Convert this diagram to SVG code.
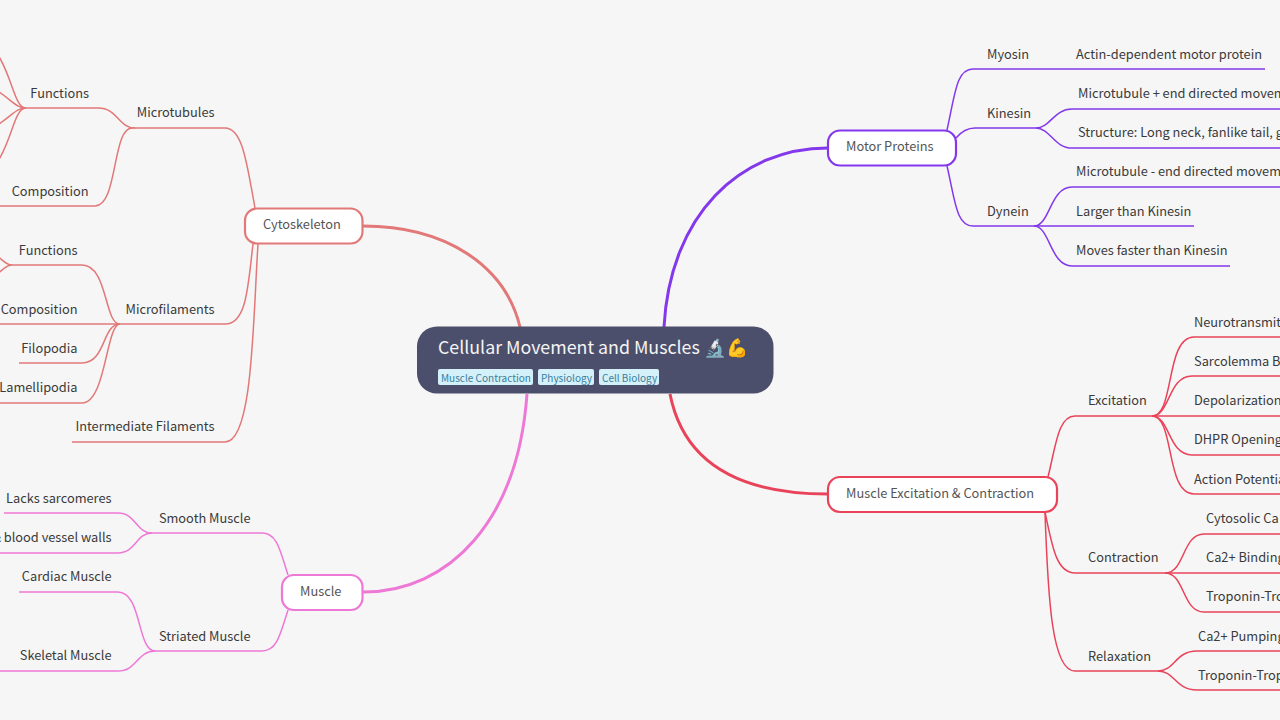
<svg xmlns="http://www.w3.org/2000/svg" width="1280" height="720" viewBox="0 0 1280 720">
<style>
text{font-family:"Noto Sans CJK SC","Noto Sans",sans-serif;font-size:12.8px;fill:#3a3a3a}
.e{text-anchor:end}
.n{fill:#555}
.c path{fill:none;stroke-width:1.5}
.c .t{stroke-width:3}
.r{stroke:#e27878}.p{stroke:#8338ec}.k{stroke:#ee78d6}.d{stroke:#e9435a}
.box{fill:#fff;stroke-width:2.200}
.tag{fill:#d4f1f9;stroke:none}
.tt{font-size:10px;fill:#3a7d9c}
</style>
<rect width="1280" height="720" fill="#f6f6f6"/>
<g id="connectors" class="c">
<g class="r">
<path class="t" d="M363,226 C445,226 505,265 520,327"/>
<path d="M255,208 C247,165 243,128 225,128 L132,128"/>
<path d="M135,128 C118,128 118,108 98,108 L26,108"/>
<path d="M26,108 C14,108 12,74 -4,52"/>
<path d="M26,108 C16,108 12,100 -4,90"/>
<path d="M26,108 C16,108 12,116 -4,126"/>
<path d="M26,108 C14,108 12,142 -4,164"/>
<path d="M132,128 C112,128 118,206 95,206 L-2,206"/>
<path d="M253,244 C248,285 247,324 225,324 L120,324"/>
<path d="M120,324 C104,324 108,265 82,265 L12,265"/>
<path d="M12,265 C6,265 4,261 -4,255"/>
<path d="M12,265 C6,265 4,269 -4,275"/>
<path d="M120,324 L-2,324"/>
<path d="M120,324 C102,324 106,363 82,363 L19,363"/>
<path d="M120,324 C106,324 106,403 82,403 L-2,403"/>
<path d="M258,244 C253,320 253,442 225,442 L72,442"/>
</g>
<g class="p">
<path class="t" d="M828,148 C740,148 670,215 664,327"/>
<path d="M947,130 C955,95 956,69 973,69 L1265,69"/>
<path d="M956,138 C961,132 967,128 975,128 L1036,128"/>
<path d="M1036,128 C1050,128 1054,109 1072,109 L1282,109"/>
<path d="M1036,128 C1050,128 1054,148 1072,148 L1282,148"/>
<path d="M947,166 C955,200 956,226 973,226 L1194,226"/>
<path d="M1034,226 C1050,226 1050,187 1072,187 L1282,187"/>
<path d="M1034,226 C1050,226 1050,266 1072,266 L1230,266"/>
</g>
<g class="k">
<path class="t" d="M363,592 C450,592 518,520 527,394"/>
<path d="M288,575 C280,550 277,533 262,533 L152,533"/>
<path d="M152,533 C136,533 136,513 118,513 L4,513"/>
<path d="M152,533 C136,533 136,553 118,553 L-2,553"/>
<path d="M288,610 C280,635 277,651 262,651 L155,651"/>
<path d="M155,651 C137,651 142,592 118,592 L19,592"/>
<path d="M155,651 C137,651 137,671 118,671 L-2,671"/>
</g>
<g class="d">
<path class="t" d="M828,494 C750,494 685,470 670,394"/>
<path d="M1048,477 C1056,445 1058,416 1075,416 L1152,416"/>
<path d="M1152,416 C1175,416 1165,337 1194,337 L1282,337"/>
<path d="M1152,416 C1170,416 1168,376 1192,376 L1282,376"/>
<path d="M1152,416 L1282,416"/>
<path d="M1152,416 C1170,416 1168,455 1192,455 L1282,455"/>
<path d="M1152,416 C1175,416 1165,494 1194,494 L1282,494"/>
<path d="M1045,512 C1052,545 1056,573 1075,573 L1165,573"/>
<path d="M1165,573 C1185,573 1182,534 1204,534 L1282,534"/>
<path d="M1165,573 L1282,573"/>
<path d="M1165,573 C1185,573 1182,612 1204,612 L1282,612"/>
<path d="M1045,512 C1048,600 1052,671 1075,671 L1158,671"/>
<path d="M1158,671 C1175,671 1175,651 1197,651 L1282,651"/>
<path d="M1158,671 C1175,671 1175,690 1197,690 L1282,690"/>
</g>
</g>
<g id="root">
<rect x="417" y="326.500" width="356.500" height="67" rx="20" fill="#4c4f6b"/>
<text x="438" y="354" style="font-size:17.800px;fill:#f4f4f4">Cellular Movement and Muscles 🔬💪</text>
<rect class="tag" x="438" y="369" width="95" height="16" rx="2"/>
<text class="tt" x="441" y="382">Muscle Contraction</text>
<rect class="tag" x="538" y="369" width="56" height="16" rx="2"/>
<text class="tt" x="541" y="382">Physiology</text>
<rect class="tag" x="599" y="369" width="60" height="16" rx="2"/>
<text class="tt" x="602" y="382">Cell Biology</text>
</g>
<g id="cytoskeleton"><rect class="box r" x="245" y="208.500" width="117.500" height="35" rx="12"/><text class="n" x="263" y="229">Cytoskeleton</text></g>
<g id="motor-proteins"><rect class="box p" x="828" y="130.500" width="128" height="35" rx="12"/><text class="n" x="846" y="151">Motor Proteins</text></g>
<g id="muscle"><rect class="box k" x="282" y="575" width="80.500" height="35" rx="12"/><text class="n" x="300" y="596">Muscle</text></g>
<g id="excitation-contraction"><rect class="box d" x="828" y="477" width="229" height="35" rx="12"/><text class="n" x="846" y="498">Muscle Excitation &amp; Contraction</text></g>
<g id="microtubules"><text class="e" x="214.500" y="117">Microtubules</text></g>
<g id="mt-functions"><text class="e" x="89" y="98">Functions</text></g>
<g id="mt-composition"><text class="e" x="88.500" y="196">Composition</text></g>
<g id="microfilaments"><text class="e" x="214.500" y="314">Microfilaments</text></g>
<g id="mf-functions"><text class="e" x="77.500" y="255">Functions</text></g>
<g id="mf-composition"><text class="e" x="77.500" y="314">Composition</text></g>
<g id="filopodia"><text class="e" x="77.500" y="353">Filopodia</text></g>
<g id="lamellipodia"><text class="e" x="77.500" y="392">Lamellipodia</text></g>
<g id="intermediate"><text class="e" x="214.500" y="431">Intermediate Filaments</text></g>
<g id="smooth"><text class="e" x="250.500" y="523">Smooth Muscle</text></g>
<g id="lacks"><text class="e" x="111.500" y="503">Lacks sarcomeres</text></g>
<g id="vessel"><text class="e" x="111.500" y="542">&amp; blood vessel walls</text></g>
<g id="striated"><text class="e" x="250.500" y="641">Striated Muscle</text></g>
<g id="cardiac"><text class="e" x="111.500" y="581">Cardiac Muscle</text></g>
<g id="skeletal"><text class="e" x="111.500" y="660">Skeletal Muscle</text></g>
<g id="myosin"><text x="987" y="59">Myosin</text></g>
<g id="actin"><text x="1076" y="59">Actin-dependent motor protein</text></g>
<g id="kinesin"><text x="987" y="118">Kinesin</text></g>
<g id="k1"><text x="1078" y="98">Microtubule + end directed movem</text></g>
<g id="k2"><text x="1078" y="137">Structure: Long neck, fanlike tail, g</text></g>
<g id="dynein"><text x="987" y="216">Dynein</text></g>
<g id="d1"><text x="1076" y="176">Microtubule - end directed movem</text></g>
<g id="d2"><text x="1076" y="216">Larger than Kinesin</text></g>
<g id="d3"><text x="1076" y="255">Moves faster than Kinesin</text></g>
<g id="excitation"><text x="1088" y="405">Excitation</text></g>
<g id="e1"><text x="1194" y="327">Neurotransmit</text></g>
<g id="e2"><text x="1194" y="366">Sarcolemma B</text></g>
<g id="e3"><text x="1194" y="405">Depolarization</text></g>
<g id="e4"><text x="1194" y="444">DHPR Opening</text></g>
<g id="e5"><text x="1194" y="484">Action Potentia</text></g>
<g id="contraction"><text x="1088" y="562">Contraction</text></g>
<g id="c1"><text x="1206" y="523">Cytosolic Ca</text></g>
<g id="c2"><text x="1206" y="562">Ca2+ Binding</text></g>
<g id="c3"><text x="1206" y="601">Troponin-Tro</text></g>
<g id="relaxation"><text x="1088" y="661">Relaxation</text></g>
<g id="r1"><text x="1198" y="641">Ca2+ Pumping</text></g>
<g id="r2"><text x="1198" y="680">Troponin-Trop</text></g>
</svg>
